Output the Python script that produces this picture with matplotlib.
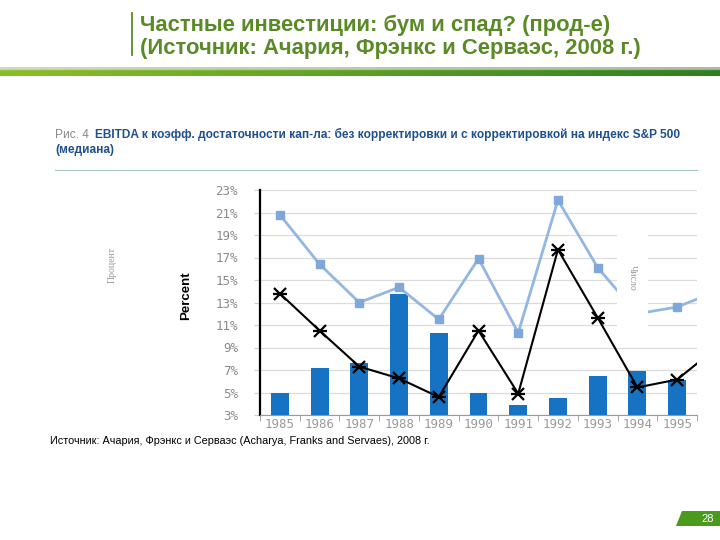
import numpy as np
import matplotlib
matplotlib.use("Agg")
import matplotlib.pyplot as plt
from matplotlib.patches import Rectangle, Polygon
from matplotlib.lines import Line2D

W, H = 720, 540

# data
years = ["1985", "1986", "1987", "1988", "1989", "1990",
         "1991", "1992", "1993", "1994", "1995"]
bar_vals = [5.0, 7.2, 7.6, 13.8, 10.3, 5.0, 3.9, 4.5, 6.5, 6.9, 6.1]
# lines continue one year past the visible crop (1996)
adjusted = [20.8, 16.4, 13.0, 14.35, 11.5, 16.9, 10.3, 22.1, 16.1, 12.0, 12.6, 14.0]
unadjusted = [13.8, 10.5, 7.3, 6.25, 4.6, 10.5, 4.9, 17.7, 11.65, 5.45, 6.15, 9.0]
yticks = [3, 5, 7, 9, 11, 13, 15, 17, 19, 21, 23]

title_lines = ["Частные инвестиции: бум и спад? (прод-е)",
               "(Источник: Ачария, Фрэнкс и Серваэс, 2008 г.)"]
caption_1 = "EBITDA к коэфф. достаточности кап-ла: без корректировки и с корректировкой на индекс S&P 500"
caption_2 = "(медиана)"
source = "Источник: Ачария, Фрэнкс и Серваэс (Acharya, Franks and Servaes), 2008 г."

GREEN = "#5a8a26"
SANS = ["Liberation Sans", "DejaVu Sans"]
plt.rcParams["font.family"] = SANS


def box(x0, y0, x1, y1):
    """pixel box (top-left origin) -> figure rect"""
    return [x0 / W, 1 - y1 / H, (x1 - x0) / W, (y1 - y0) / H]


def fx(x):
    return x / W


def fy(y):
    return 1 - y / H


fig = plt.figure(figsize=(7.2, 5.4), dpi=100)
fig.patch.set_facecolor("white")

# title block
fig.add_artist(Line2D([fx(132), fx(132)], [fy(13), fy(55)], color=GREEN, lw=1.3))
fig.text(fx(140), fy(31), title_lines[0], color=GREEN, fontsize=15.8,
         fontweight="bold", va="baseline")
fig.text(fx(140), fy(54), title_lines[1], color=GREEN, fontsize=15.8,
         fontweight="bold", va="baseline")

# green band under the title
band = fig.add_axes(box(0, 67, W, 76))
band.axis("off")
t = np.linspace(0, 1, 300)
top_row = np.array([[0.80, 0.86, 0.74]] * 300) * (1 - 0.15 * t[:, None])
bot_start = np.array([0.55, 0.75, 0.15])
bot_end = np.array([0.17, 0.50, 0.12])
bot_row = bot_start + (bot_end - bot_start) * t[:, None]
band.imshow(np.stack([top_row, top_row, bot_row, bot_row, bot_row]),
            aspect="auto", extent=(0, 1, 0, 1))

# figure caption
fig.text(fx(55), fy(138), "Рис. 4", color="#8a8a8a", fontsize=8.6, va="baseline")
fig.text(fx(95), fy(138), caption_1, color="#1f4f8f", fontsize=8.6,
         fontweight="bold", va="baseline")
fig.text(fx(55), fy(153), caption_2, color="#1f4f8f", fontsize=8.6,
         fontweight="bold", va="baseline")
fig.add_artist(Line2D([fx(55), fx(697)], [fy(170), fy(170)], color="#a9c3c9", lw=0.8))

# main chart
ax = fig.add_axes(box(260, 190, 697, 415))
x = np.arange(len(bar_vals))
xl = np.arange(len(adjusted))
ax.bar(x, [v - 3 for v in bar_vals], bottom=3, width=0.45, color="#1673c4", zorder=2)
ax.plot(xl, adjusted, color="#93b6e2", lw=2, marker="s", ms=6,
        mfc="#7fa7da", mec="#7fa7da", zorder=3)
ax.plot(xl, unadjusted, color="black", lw=1.5, marker="x", ms=8,
        mew=1.6, zorder=4)
ax.plot(xl, unadjusted, ls="none", color="black", marker="_", ms=10,
        mew=1.6, zorder=4)

ax.set_xlim(-0.5, 10.43)
ax.set_ylim(3, 23)
ax.set_yticks(yticks)
ax.set_yticklabels([f"{v}%" for v in yticks], family="DejaVu Sans Mono",
                   fontsize=9, color="#8a8a8a")
ax.yaxis.grid(True, color="#dcdcdc", lw=0.9, zorder=0)
ax.set_axisbelow(True)
ax.tick_params(axis="y", length=4, color="#cfcfcf", pad=12)

ax.set_xticks(x)
ax.set_xticklabels(years, family="DejaVu Sans Mono", fontsize=9, color="#9a9a9a")
ax.set_xticks(np.arange(-0.5, 11, 1), minor=True)
ax.tick_params(axis="x", which="major", length=0, pad=2)
ax.tick_params(axis="x", which="minor", length=4, color="#9a9a9a")

for side in ("top", "right"):
    ax.spines[side].set_visible(False)
ax.spines["left"].set_color("black")
ax.spines["left"].set_linewidth(1.6)
ax.spines["bottom"].set_color("#9a9a9a")

# axis titles pasted on the slide
fig.text(fx(112), fy(265), "Процент", rotation=90, ha="center", va="center",
         family="Liberation Serif", fontsize=7, color="#9a9a9a")
fig.text(fx(186), fy(296), "Percent", rotation=90, ha="center", va="center",
         fontsize=9.5, fontweight="bold", color="black")

# white patch with the "Число" label over the lines
fig.add_artist(Rectangle((fx(617), fy(339)), (648 - 617) / W, (339 - 222) / H,
                         transform=fig.transFigure, facecolor="white",
                         edgecolor="none", zorder=5))
fig.text(fx(632), fy(278), "Число", rotation=-90, ha="center", va="center",
         family="Liberation Serif", fontsize=7, color="#9a9a9a", zorder=6)

# source line
fig.text(fx(50), fy(444), source, fontsize=7.8, color="black", va="baseline", zorder=6)

# page number badge
fig.add_artist(Polygon([(fx(676), fy(526)), (fx(682), fy(511)), (fx(720), fy(511)),
                        (fx(720), fy(526))], closed=True, transform=fig.transFigure,
                       facecolor="#4a9a1e", edgecolor="none", zorder=5))
fig.text(fx(708), fy(522), "28", color="white", fontsize=8, ha="center",
         va="baseline", zorder=6)

fig.savefig("out.png", dpi=100, facecolor="white")
